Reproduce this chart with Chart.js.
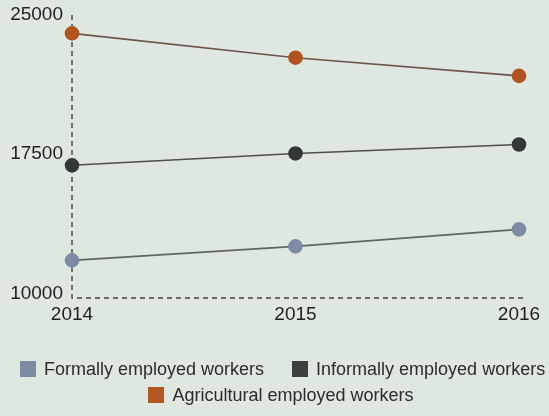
<!DOCTYPE html>
<html>
<head>
<meta charset="utf-8">
<script src="https://cdn.jsdelivr.net/npm/chart.js"></script>
<style>
  html, body { margin: 0; padding: 0; background: #dfe7e1; }
  #wrap { width: 549px; height: 416px; position: relative; overflow: hidden; }
  #c { position: absolute; left: 0; top: 0; }
  .row { position: absolute; display: flex; align-items: center; white-space: nowrap;
         font-family: 'Liberation Sans', Arial, sans-serif; font-size: 18px; color: #2b2b2b; height: 20px; }
  .item { display: flex; align-items: center; }
  .box { width: 16px; height: 16px; margin-right: 8px; flex: none; }
</style>
</head>
<body>
<div id="wrap">
  <canvas id="c" width="549" height="416"></canvas>
  <div id="row1" class="row" style="left:20px; top:359px;"></div>
  <div id="row2" class="row" style="left:0; width:562px; justify-content:center; top:385px;"></div>
</div>
<script>
const categories = ["2014", "2015", "2016"];
const formalValues = [11780, 12530, 13450];
const informalValues = [16900, 17540, 18020];
const agriculturalValues = [24010, 22700, 21720];
const yTickValues = [10000, 17500, 25000];
const seriesNames = ["Formally employed workers", "Informally employed workers", "Agricultural employed workers"];

const dashedAxes = {
  id: 'dashedAxes',
  beforeDatasetsDraw(chart) {
    const { ctx, chartArea: a } = chart;
    ctx.save();
    ctx.strokeStyle = '#444';
    ctx.lineWidth = 1.4;
    ctx.setLineDash([5, 4]);
    ctx.beginPath();
    ctx.moveTo(a.left, a.top);
    ctx.lineTo(a.left, a.bottom);
    ctx.lineTo(a.right + 4, a.bottom);
    ctx.stroke();
    ctx.restore();
  }
};

const ctx = document.getElementById('c').getContext('2d');
const chart = new Chart(ctx, {
  type: 'line',
  data: {
    labels: categories,
    datasets: [
      { label: seriesNames[0], data: formalValues, borderColor: '#5e6664', backgroundColor: '#7d8ba4',
        pointBackgroundColor: '#7d8ba4', pointBorderColor: '#7d8ba4', pointRadius: 6.5, borderWidth: 1.6, tension: 0 },
      { label: seriesNames[1], data: informalValues, borderColor: '#4a4f4d', backgroundColor: '#3a403e',
        pointBackgroundColor: '#323836', pointBorderColor: '#323836', pointRadius: 6.5, borderWidth: 1.6, tension: 0 },
      { label: seriesNames[2], data: agriculturalValues, borderColor: '#6b5547', backgroundColor: '#b3561f',
        pointBackgroundColor: '#b0541f', pointBorderColor: '#b0541f', pointRadius: 6.5, borderWidth: 1.6, tension: 0 }
    ]
  },
  options: {
    responsive: false,
    animation: false,
    layout: { padding: { top: 15, right: 30, bottom: 64, left: 0 } },
    plugins: {
      tooltip: { enabled: false },
      legend: { display: false }
    },
    scales: {
      x: {
        type: 'category',
        offset: false,
        grid: { display: false, drawTicks: false },
        border: { display: false },
        ticks: { color: '#1f1f1f', font: { family: 'Liberation Sans', size: 19 }, padding: 5, maxRotation: 0 },
        afterFit: (s) => { s.height = 54; s.paddingLeft = 0; s.paddingRight = 0; }
      },
      y: {
        min: 9750, max: 25000,
        grid: { display: false, drawTicks: false },
        border: { display: false },
        afterBuildTicks: (s) => { s.ticks = yTickValues.map(v => ({ value: v })); },
        ticks: { color: '#1f1f1f', font: { family: 'Liberation Sans', size: 19 }, padding: 9,
                 callback: (v) => String(v) },
        afterFit: (s) => { s.width = 72; s.paddingTop = 0; s.paddingBottom = 0; }
      }
    }
  },
  plugins: [dashedAxes]
});

// HTML legend built from the chart's datasets
function legendItem(ds) {
  const it = document.createElement('div');
  it.className = 'item';
  const b = document.createElement('span');
  b.className = 'box';
  b.style.background = ds.backgroundColor;
  const t = document.createElement('span');
  t.textContent = ds.label;
  it.appendChild(b); it.appendChild(t);
  return it;
}
const ds = chart.data.datasets;
const r1 = document.getElementById('row1');
const r2 = document.getElementById('row2');
const i0 = legendItem(ds[0]); i0.style.marginRight = '28px';
r1.appendChild(i0);
r1.appendChild(legendItem(ds[1]));
r2.appendChild(legendItem(ds[2]));
</script>
</body>
</html>
